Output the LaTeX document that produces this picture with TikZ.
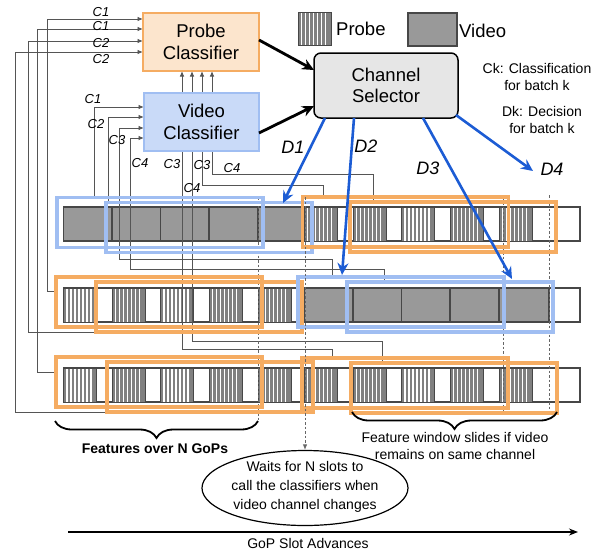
\documentclass[tikz,border=0pt]{standalone}
\usepackage{fontspec}
\setmainfont{Liberation Sans}
\usetikzlibrary{arrows.meta,shapes.geometric,decorations.pathreplacing}
\pgfdeclarelayer{bg}
\pgfdeclarelayer{mid}
\pgfsetlayers{bg,mid,main}
\definecolor{orfr}{RGB}{245,172,98}
\definecolor{blfr}{RGB}{160,190,242}
\definecolor{orfill}{RGB}{252,229,205}
\definecolor{blfill}{RGB}{201,218,248}
\definecolor{dblue}{RGB}{28,92,212}
\definecolor{lgray}{RGB}{85,85,85}
\definecolor{vgray}{RGB}{153,153,153}
\definecolor{csfill}{RGB}{230,230,230}
\newcommand\myBig{\fontsize{18.5}{21.5}\selectfont}
\newcommand\myTxt{\fontsize{14}{16.5}\selectfont}
\newcommand\probeblk[3]{%
  \fill[black!50] (#1,#2) rectangle (#1+33,#3);
  \foreach \k in {0,...,6}{\draw[white,line width=1.3pt] (#1+3.5+4*\k,#2) -- (#1+3.5+4*\k,#3);}
  \draw[black!72,line width=1pt] (#1,#2) rectangle (#1+33,#3);}
\begin{document}
\begin{tikzpicture}[x=1pt,y=-1pt,
  conn/.style={draw=lgray,line width=0.9pt,-{Latex[length=5.5pt,width=4.5pt]}},
  ofr/.style={draw=orfr,line width=3.2pt,minimum width=206pt,minimum height=50pt,inner sep=0pt,outer sep=0pt},
  bfr/.style={ofr,draw=blfr},
  vid/.style={fill=vgray,draw=black!72,line width=1.1pt},
  clab/.style={font=\fontsize{13}{13}\selectfont\itshape,inner sep=0pt},
  dlab/.style={font=\fontsize{18}{18}\selectfont\itshape,inner sep=0pt},
  dotl/.style={draw=black!60,line width=0.9pt,dash pattern=on 2.5pt off 2pt},
  darr/.style={draw=dblue,line width=2.6pt,-{Stealth[length=12pt,width=11pt,inset=4pt]}},
  karr/.style={draw=black,line width=2.8pt,-{Stealth[length=12pt,width=11pt,inset=4pt]}},
  txt/.style={font=\myTxt,align=center,inner sep=0pt},
]
\useasboundingbox (0,0) rectangle (605,550);

% strips
\begin{pgfonlayer}{bg}
\foreach \ya/\yb in {207/241,288/322,368/402}{\filldraw[fill=white,draw=black!72,line width=1.1pt] (63.5,\ya) rectangle (580,\yb);}
\foreach \a/\b in {63.5/112,112/160.5,160.5/209,209/258,258/304}{\filldraw[vid] (\a,207) rectangle (\b,241);}
\foreach \a in {304,353,401.5,450,499}{\probeblk{\a}{207}{241}}
\foreach \a in {63.5,112,160.5,209,258}{\probeblk{\a}{288}{322}}
\foreach \a/\b in {304/353,353/401.5,401.5/450,450/499,499/549}{\filldraw[vid] (\a,288) rectangle (\b,322);}
\foreach \a in {63.5,112,160.5,209,258,304,353,401.5,450,499}{\probeblk{\a}{368}{402}}
\end{pgfonlayer}

% window frames
\node[bfr] (A) at (160,222.5) {};
\node[bfr] (B) at (209,227.5) {};
\node[ofr] (C) at (405.5,222) {};
\node[ofr] (D) at (453,227) {};
\node[ofr] (E) at (159,302) {};
\node[ofr] (F) at (199,307) {};
\node[bfr] (G) at (401,302) {};
\node[bfr] (H) at (450,307) {};
\node[ofr] (I) at (159,382) {};
\node[ofr] (J) at (210,387) {};
\node[ofr] (K) at (405,383) {};
\node[ofr] (L) at (454,388) {};

% classifiers and selector
\node[draw=orfr,fill=orfill,line width=2.5pt,minimum width=116pt,minimum height=58pt,inner sep=0pt,outer sep=0pt,align=center,font=\myBig] (pc) at (201,42) {Probe\\Classifier};
\node[draw=blfr,fill=blfill,line width=2.5pt,minimum width=115pt,minimum height=58pt,inner sep=0pt,outer sep=0pt,align=center,font=\myBig] (vc) at (201.5,122) {Video\\Classifier};
\node[draw=black,fill=csfill,line width=1.5pt,rounded corners=7pt,minimum width=144pt,minimum height=65pt,inner sep=0pt,outer sep=0pt,align=center,font=\myBig] (cs) at (386,85.5) {Channel\\Selector};

% connectors
\begin{pgfonlayer}{mid}
\draw[conn] ([yshift=11pt]E.west) -| ([xshift=-96pt,yshift=23pt]pc.west) -- ([yshift=23pt]pc.west);
\draw[conn] ([yshift=10pt]I.west) -| ([xshift=-106pt,yshift=13pt]pc.west) -- ([yshift=13pt]pc.west);
\draw[conn] (F.south west) -| ([xshift=-115pt,yshift=1pt]pc.west) -- ([yshift=1pt]pc.west);
\draw[conn] (J.south west) -| ([xshift=-128pt,yshift=-10pt]pc.west) -- ([yshift=-10pt]pc.west);
\draw[conn] ([xshift=37pt]A.north west) |- ([yshift=15pt]vc.west);
\draw[conn] ([xshift=2pt]B.north west) |- ([yshift=5pt]vc.west);
\draw[conn] ([xshift=34pt]G.north west) -- ++(0,-18) -| ([xshift=-25pt,yshift=-6pt]vc.west) -- ([yshift=-6pt]vc.west);
\draw[conn] ([xshift=37pt]H.north west) -- ++(0,-13) -| ([xshift=-14pt,yshift=-16pt]vc.west) -- ([yshift=-16pt]vc.west);
\draw[conn] ([xshift=30pt]K.north west) -- ++(0,-9) -| ([xshift=-19pt]pc.south);
\draw[conn] ([xshift=31pt]L.north west) -- ++(0,-22) -| ([xshift=-9pt]pc.south);
\draw[conn] ([xshift=20.5pt]C.north west) -- ++(0,-12) -| ([xshift=1pt]pc.south);
\draw[conn] ([xshift=23pt]D.north west) -- ++(0,-28) -| ([xshift=11pt]pc.south);
% dotted guides
\draw[dotl] (258,197) -- (258,422);
\draw[dotl] (503,198) -- (503,413);
\draw[dotl] (549,195) -- (549,413);
\end{pgfonlayer}

% C labels
\node[clab] (l1) at (101,12) {C1};
\node[clab] (l2) at (101,26) {C1};
\node[clab] (l3) at (101,43) {C2};
\node[clab] (l4) at (101,59) {C2};
\node[clab] (l5) at (93,99) {C1};
\node[clab] (l6) at (96,124) {C2};
\node[clab] (l7) at (117,140) {C3};
\node[clab] (l8) at (140,163) {C4};
\node[clab] (l9) at (172,164) {C3};
\node[clab] (l10) at (202,165) {C3};
\node[clab] (l11) at (192,188) {C4};
\node[clab] (l12) at (232,168) {C4};

% selector arrows
\draw[karr] ([yshift=2pt]pc.east) -- ([yshift=15.5pt]cs.west);
\draw[karr] ([yshift=-11pt]vc.east) -- ([yshift=-20.5pt]cs.west);
\coordinate (d1e) at (283,203);
\coordinate (d2e) at (342,275);
\coordinate (d3e) at (512,279);
\coordinate (d4e) at (533,171);
\draw[darr] ([xshift=-61pt]cs.south) -- (d1e);
\draw[darr] ([xshift=-32pt]cs.south) -- (d2e);
\draw[darr] ([xshift=37pt]cs.south) -- (d3e);
\draw[darr] ([xshift=-2pt,yshift=3pt]cs.south east) -- (d4e);
\node[dlab] (D1l) at (293,147) {D1};
\node[dlab] (D2l) at (366,146) {D2};
\node[dlab] (D3l) at (428,168) {D3};
\node[dlab] (D4l) at (552,169) {D4};

% legend
\probeblk{298}{12}{45}
\node[anchor=west,inner sep=0pt,font=\myBig] (lp) at (336,29) {Probe};
\filldraw[vid] (408,13) rectangle (457,46);
\node[anchor=west,inner sep=0pt,font=\myBig] (lv) at (459,31) {Video};
\node[txt] (ck) at (537,77) {Ck: Classification\\for batch k};
\node[txt] (dk) at (542,120) {Dk: Decision\\for batch k};

% braces and notes
\draw[decorate,decoration={brace,mirror,amplitude=17pt},line width=1.8pt] (55,421) -- (258,421);
\draw[decorate,decoration={brace,mirror,amplitude=17pt},line width=1.8pt] (352,412) -- (557,412);
\node[txt,font=\myTxt\bfseries] (feat) at (155,449) {Features over N GoPs};
\node[txt] (slide) at (455,446) {Feature window slides if video\\remains on same channel};
\node[ellipse,draw,line width=1.2pt,minimum width=206pt,minimum height=75pt,inner sep=0pt] (wait) at (305,488) {};
\node[txt,font=\fontsize{14}{19}\selectfont] (waittxt) at ([yshift=1pt]wait.center) {Waits for N slots to\\call the classifiers when\\video channel changes};
\coordinate (dtop) at (305,197);
\draw[dotl,-{Latex[length=5.5pt,width=4.5pt]}] (dtop) -- (wait.north);

% axis
\coordinate (ax0) at (68,532);
\coordinate (ax1) at (578,532);
\draw[line width=1.2pt,-{Stealth[length=9pt,width=7pt]}] (ax0) -- (ax1);
\node[txt] (gop) at (308,543) {GoP Slot Advances};
\end{tikzpicture}
\end{document}
